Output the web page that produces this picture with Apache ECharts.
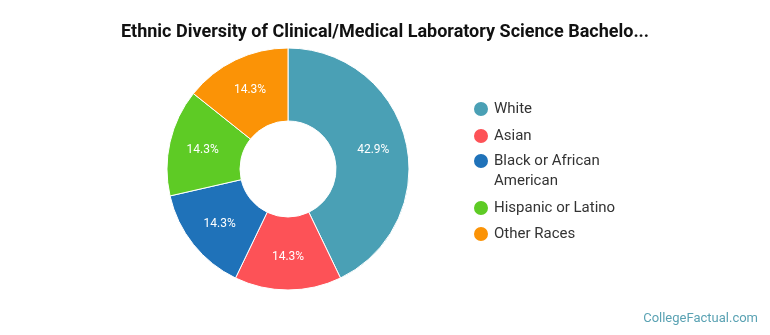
<!DOCTYPE html>
<html>
<head>
<meta charset="utf-8">
<script src="https://cdn.jsdelivr.net/npm/echarts@6/dist/echarts.min.js"></script>
<style>
	html, body { margin: 0; padding: 0; background: #fff; }
	#chart { width: 770px; height: 335px; }
</style>
</head>
<body>
<div id="chart"></div>
<script>
var titleText = "Ethnic Diversity of Clinical/Medical Laboratory Science Bachelo...";
var races = ["White", "Asian", "Black or African American", "Hispanic or Latino", "Other Races"];
var counts = [3, 1, 1, 1, 1];
var colors = ["#4aa0b5", "#fd5257", "#1f72b9", "#5ecb25", "#fb9306"];

(function() {
	var myChart = echarts.init(document.getElementById("chart"));

	var total = counts.reduce(function(a, b) { return a + b; }, 0);
	var pieData = races.map(function(name, i) {
		return { name: name, value: counts[i], itemStyle: { color: colors[i] } };
	});

	var legendBase = {
		orient: "vertical",
		left: 472,
		padding: 0,
		itemWidth: 16,
		itemHeight: 16,
		itemGap: 9,
		icon: "circle",
		textStyle: { fontFamily: "Roboto", fontSize: 15, color: "#333" }
	};

	var option = {
		animation: false,
		title: [
			{
				text: titleText,
				left: "center",
				top: 18,
				textStyle: { fontFamily: "Roboto", fontSize: 18, fontWeight: "bold", color: "#111" }
			},
			{
				text: "CollegeFactual.com",
				right: 7,
				bottom: 5,
				textStyle: { fontFamily: "Roboto", fontSize: 13, fontWeight: "normal", color: "#5aa2b3" }
			}
		],
		legend: [
			Object.assign({}, legendBase, {
				top: 100,
				data: races.slice(0, 2)
			}),
			Object.assign({}, legendBase, {
				top: 131,
				itemGap: 8,
				data: [
					{ name: races[2], textStyle: { lineHeight: 20 } },
					races[3],
					races[4]
				],
				formatter: function(name) {
					// leading blank line keeps the icon beside the first line
					return name === "Black or African American" ? "\nBlack or African\nAmerican" : name;
				}
			})
		],
		series: [
			{
				type: "pie",
				center: [288, 169],
				radius: [48, 121],
				startAngle: 90,
				clockwise: true,
				itemStyle: { borderColor: "#fff", borderWidth: 1 },
				label: {
					position: "inside",
					color: "#fff",
					fontFamily: "Roboto",
					fontSize: 12,
					formatter: function(p) {
						return (p.value / total * 100).toFixed(1) + "%";
					}
				},
				labelLine: { show: false },
				emphasis: { disabled: true },
				data: pieData
			}
		]
	};

	myChart.setOption(option);

	window.addEventListener("resize", function() {
		myChart.resize();
	});
})();
</script>
</body>
</html>
